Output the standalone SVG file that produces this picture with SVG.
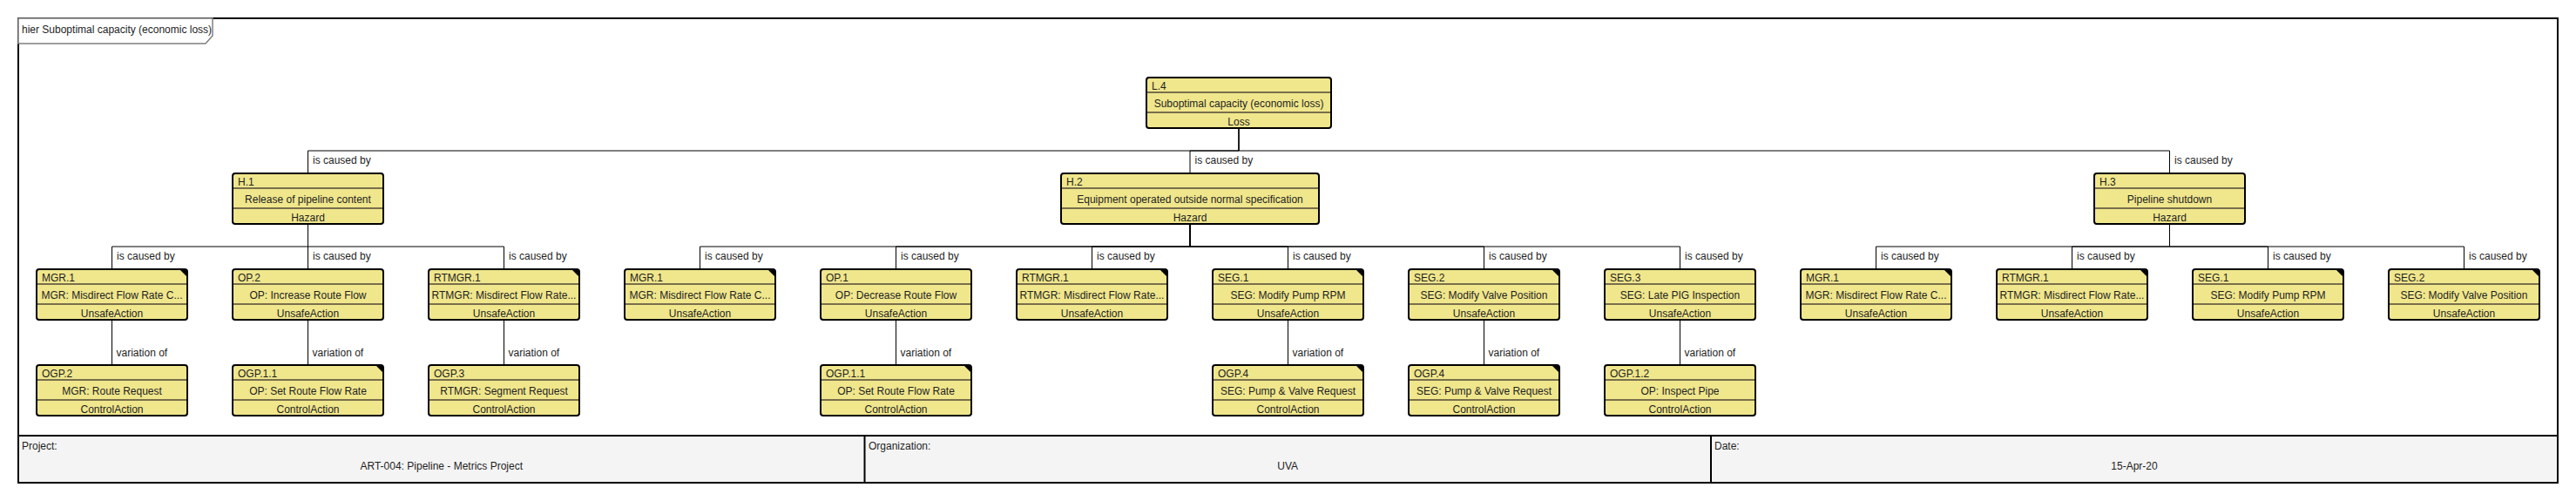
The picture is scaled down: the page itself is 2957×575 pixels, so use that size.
<svg xmlns="http://www.w3.org/2000/svg" width="2957" height="575" viewBox="0 0 2957 575">
<defs>
<style>
text{font-family:"Liberation Sans",Arial,sans-serif;font-size:12px;fill:#1e1e1e}
.box{fill:#f0e68c;stroke:#000;stroke-width:2}
.div{stroke:#786f4c;stroke-width:2}
.tri{fill:#000}
.c{text-anchor:middle}
.conn{fill:none;stroke:#000;stroke-width:1}
.frame{fill:none;stroke:#000;stroke-width:2}
.tab{fill:#fff;stroke:#808080;stroke-width:1.5}
.cell{fill:#f4f4f4;stroke:none}
.cellline{stroke:#000;stroke-width:2}
</style>
</defs>
<rect x="0" y="0" width="2957" height="575" fill="#fff"/>
<g id="frame">
<rect class="cell" x="21" y="500" width="2915" height="54"/>
<rect class="frame" x="21" y="21" width="2915" height="533"/>
<path class="tab" d="M21,21 H244 V41 L236,50 H21 Z"/>
<text x="25" y="38">hier Suboptimal capacity (economic loss)</text>
<line class="cellline" x1="21" y1="500" x2="2936" y2="500"/>
<line class="cellline" x1="992.5" y1="500" x2="992.5" y2="554"/>
<line class="cellline" x1="1964" y1="500" x2="1964" y2="554"/>
<text x="25" y="516">Project:</text>
<text class="c" x="506.75" y="539">ART-004: Pipeline - Metrics Project</text>
<text x="997" y="516">Organization:</text>
<text class="c" x="1478.25" y="539">UVA</text>
<text x="1968" y="516">Date:</text>
<text class="c" x="2450" y="539">15-Apr-20</text>
</g>
<g id="connectors">
<path class="conn" d="M1422,147 V173 H353.5 V199"/>
<path class="conn" d="M1422,147 V173 H1366 V199"/>
<path class="conn" d="M1422,147 V173 H2490.5 V199"/>
<text x="359" y="188">is caused by</text>
<text x="1371.5" y="188">is caused by</text>
<text x="2496" y="188">is caused by</text>
<path class="conn" d="M353.5,257 V283 H128.5 V309"/>
<path class="conn" d="M353.5,257 V283 H353.5 V309"/>
<path class="conn" d="M353.5,257 V283 H578.5 V309"/>
<text x="134" y="298">is caused by</text>
<text x="359" y="298">is caused by</text>
<text x="584" y="298">is caused by</text>
<path class="conn" d="M1366,257 V283 H803.5 V309"/>
<path class="conn" d="M1366,257 V283 H1028.5 V309"/>
<path class="conn" d="M1366,257 V283 H1253.5 V309"/>
<path class="conn" d="M1366,257 V283 H1478.5 V309"/>
<path class="conn" d="M1366,257 V283 H1703.5 V309"/>
<path class="conn" d="M1366,257 V283 H1928.5 V309"/>
<text x="809" y="298">is caused by</text>
<text x="1034" y="298">is caused by</text>
<text x="1259" y="298">is caused by</text>
<text x="1484" y="298">is caused by</text>
<text x="1709" y="298">is caused by</text>
<text x="1934" y="298">is caused by</text>
<path class="conn" d="M2490.5,257 V283 H2153.5 V309"/>
<path class="conn" d="M2490.5,257 V283 H2378.5 V309"/>
<path class="conn" d="M2490.5,257 V283 H2603.5 V309"/>
<path class="conn" d="M2490.5,257 V283 H2828.5 V309"/>
<text x="2159" y="298">is caused by</text>
<text x="2384" y="298">is caused by</text>
<text x="2609" y="298">is caused by</text>
<text x="2834" y="298">is caused by</text>
<path class="conn" d="M128.5,367 V419"/>
<path class="conn" d="M353.5,367 V419"/>
<path class="conn" d="M578.5,367 V419"/>
<path class="conn" d="M1028.5,367 V419"/>
<path class="conn" d="M1478.5,367 V419"/>
<path class="conn" d="M1703.5,367 V419"/>
<path class="conn" d="M1928.5,367 V419"/>
<text x="133.5" y="409">variation of</text>
<text x="358.5" y="409">variation of</text>
<text x="583.5" y="409">variation of</text>
<text x="1033.5" y="409">variation of</text>
<text x="1483.5" y="409">variation of</text>
<text x="1708.5" y="409">variation of</text>
<text x="1933.5" y="409">variation of</text>
</g>
<g id="L4"><rect class="box" x="1316" y="89" width="212" height="58" rx="3"/><line class="div" x1="1317" y1="106" x2="1527" y2="106"/><line class="div" x1="1317" y1="129" x2="1527" y2="129"/><text x="1322" y="103">L.4</text><text class="c" x="1422" y="123">Suboptimal capacity (economic loss)</text><text class="c" x="1422" y="144">Loss</text></g>
<g id="H1"><rect class="box" x="267" y="199" width="173" height="58" rx="3"/><line class="div" x1="268" y1="216" x2="439" y2="216"/><line class="div" x1="268" y1="239" x2="439" y2="239"/><text x="273" y="213">H.1</text><text class="c" x="353.5" y="233">Release of pipeline content</text><text class="c" x="353.5" y="254">Hazard</text></g>
<g id="H2"><rect class="box" x="1218" y="199" width="296" height="58" rx="3"/><line class="div" x1="1219" y1="216" x2="1513" y2="216"/><line class="div" x1="1219" y1="239" x2="1513" y2="239"/><text x="1224" y="213">H.2</text><text class="c" x="1366" y="233">Equipment operated outside normal specification</text><text class="c" x="1366" y="254">Hazard</text></g>
<g id="H3"><rect class="box" x="2404" y="199" width="173" height="58" rx="3"/><line class="div" x1="2405" y1="216" x2="2576" y2="216"/><line class="div" x1="2405" y1="239" x2="2576" y2="239"/><text x="2410" y="213">H.3</text><text class="c" x="2490.5" y="233">Pipeline shutdown</text><text class="c" x="2490.5" y="254">Hazard</text></g>
<g id="G1_MGR1"><rect class="box" x="42" y="309" width="173" height="58" rx="3"/><polygon class="tri" points="207,310 214,310 214,317"/><line class="div" x1="43" y1="326" x2="214" y2="326"/><line class="div" x1="43" y1="349" x2="214" y2="349"/><text x="48" y="323">MGR.1</text><text class="c" x="128.5" y="343">MGR: Misdirect Flow Rate C...</text><text class="c" x="128.5" y="364">UnsafeAction</text></g>
<g id="G1_OP2"><rect class="box" x="267" y="309" width="173" height="58" rx="3"/><line class="div" x1="268" y1="326" x2="439" y2="326"/><line class="div" x1="268" y1="349" x2="439" y2="349"/><text x="273" y="323">OP.2</text><text class="c" x="353.5" y="343">OP: Increase Route Flow</text><text class="c" x="353.5" y="364">UnsafeAction</text></g>
<g id="G1_RTMGR1"><rect class="box" x="492" y="309" width="173" height="58" rx="3"/><polygon class="tri" points="657,310 664,310 664,317"/><line class="div" x1="493" y1="326" x2="664" y2="326"/><line class="div" x1="493" y1="349" x2="664" y2="349"/><text x="498" y="323">RTMGR.1</text><text class="c" x="578.5" y="343">RTMGR: Misdirect Flow Rate...</text><text class="c" x="578.5" y="364">UnsafeAction</text></g>
<g id="G1_OGP2"><rect class="box" x="42" y="419" width="173" height="58" rx="3"/><line class="div" x1="43" y1="436" x2="214" y2="436"/><line class="div" x1="43" y1="459" x2="214" y2="459"/><text x="48" y="433">OGP.2</text><text class="c" x="128.5" y="453">MGR: Route Request</text><text class="c" x="128.5" y="474">ControlAction</text></g>
<g id="G1_OGP11"><rect class="box" x="267" y="419" width="173" height="58" rx="3"/><polygon class="tri" points="432,420 439,420 439,427"/><line class="div" x1="268" y1="436" x2="439" y2="436"/><line class="div" x1="268" y1="459" x2="439" y2="459"/><text x="273" y="433">OGP.1.1</text><text class="c" x="353.5" y="453">OP: Set Route Flow Rate</text><text class="c" x="353.5" y="474">ControlAction</text></g>
<g id="G1_OGP3"><rect class="box" x="492" y="419" width="173" height="58" rx="3"/><line class="div" x1="493" y1="436" x2="664" y2="436"/><line class="div" x1="493" y1="459" x2="664" y2="459"/><text x="498" y="433">OGP.3</text><text class="c" x="578.5" y="453">RTMGR: Segment Request</text><text class="c" x="578.5" y="474">ControlAction</text></g>
<g id="G2_MGR1"><rect class="box" x="717" y="309" width="173" height="58" rx="3"/><polygon class="tri" points="882,310 889,310 889,317"/><line class="div" x1="718" y1="326" x2="889" y2="326"/><line class="div" x1="718" y1="349" x2="889" y2="349"/><text x="723" y="323">MGR.1</text><text class="c" x="803.5" y="343">MGR: Misdirect Flow Rate C...</text><text class="c" x="803.5" y="364">UnsafeAction</text></g>
<g id="G2_OP1"><rect class="box" x="942" y="309" width="173" height="58" rx="3"/><line class="div" x1="943" y1="326" x2="1114" y2="326"/><line class="div" x1="943" y1="349" x2="1114" y2="349"/><text x="948" y="323">OP.1</text><text class="c" x="1028.5" y="343">OP: Decrease Route Flow</text><text class="c" x="1028.5" y="364">UnsafeAction</text></g>
<g id="G2_RTMGR1"><rect class="box" x="1167" y="309" width="173" height="58" rx="3"/><polygon class="tri" points="1332,310 1339,310 1339,317"/><line class="div" x1="1168" y1="326" x2="1339" y2="326"/><line class="div" x1="1168" y1="349" x2="1339" y2="349"/><text x="1173" y="323">RTMGR.1</text><text class="c" x="1253.5" y="343">RTMGR: Misdirect Flow Rate...</text><text class="c" x="1253.5" y="364">UnsafeAction</text></g>
<g id="G2_SEG1"><rect class="box" x="1392" y="309" width="173" height="58" rx="3"/><polygon class="tri" points="1557,310 1564,310 1564,317"/><line class="div" x1="1393" y1="326" x2="1564" y2="326"/><line class="div" x1="1393" y1="349" x2="1564" y2="349"/><text x="1398" y="323">SEG.1</text><text class="c" x="1478.5" y="343">SEG: Modify Pump RPM</text><text class="c" x="1478.5" y="364">UnsafeAction</text></g>
<g id="G2_SEG2"><rect class="box" x="1617" y="309" width="173" height="58" rx="3"/><polygon class="tri" points="1782,310 1789,310 1789,317"/><line class="div" x1="1618" y1="326" x2="1789" y2="326"/><line class="div" x1="1618" y1="349" x2="1789" y2="349"/><text x="1623" y="323">SEG.2</text><text class="c" x="1703.5" y="343">SEG: Modify Valve Position</text><text class="c" x="1703.5" y="364">UnsafeAction</text></g>
<g id="G2_SEG3"><rect class="box" x="1842" y="309" width="173" height="58" rx="3"/><line class="div" x1="1843" y1="326" x2="2014" y2="326"/><line class="div" x1="1843" y1="349" x2="2014" y2="349"/><text x="1848" y="323">SEG.3</text><text class="c" x="1928.5" y="343">SEG: Late PIG Inspection</text><text class="c" x="1928.5" y="364">UnsafeAction</text></g>
<g id="G2_OGP11"><rect class="box" x="942" y="419" width="173" height="58" rx="3"/><polygon class="tri" points="1107,420 1114,420 1114,427"/><line class="div" x1="943" y1="436" x2="1114" y2="436"/><line class="div" x1="943" y1="459" x2="1114" y2="459"/><text x="948" y="433">OGP.1.1</text><text class="c" x="1028.5" y="453">OP: Set Route Flow Rate</text><text class="c" x="1028.5" y="474">ControlAction</text></g>
<g id="G2_OGP4a"><rect class="box" x="1392" y="419" width="173" height="58" rx="3"/><polygon class="tri" points="1557,420 1564,420 1564,427"/><line class="div" x1="1393" y1="436" x2="1564" y2="436"/><line class="div" x1="1393" y1="459" x2="1564" y2="459"/><text x="1398" y="433">OGP.4</text><text class="c" x="1478.5" y="453">SEG: Pump &amp; Valve Request</text><text class="c" x="1478.5" y="474">ControlAction</text></g>
<g id="G2_OGP4b"><rect class="box" x="1617" y="419" width="173" height="58" rx="3"/><polygon class="tri" points="1782,420 1789,420 1789,427"/><line class="div" x1="1618" y1="436" x2="1789" y2="436"/><line class="div" x1="1618" y1="459" x2="1789" y2="459"/><text x="1623" y="433">OGP.4</text><text class="c" x="1703.5" y="453">SEG: Pump &amp; Valve Request</text><text class="c" x="1703.5" y="474">ControlAction</text></g>
<g id="G2_OGP12"><rect class="box" x="1842" y="419" width="173" height="58" rx="3"/><line class="div" x1="1843" y1="436" x2="2014" y2="436"/><line class="div" x1="1843" y1="459" x2="2014" y2="459"/><text x="1848" y="433">OGP.1.2</text><text class="c" x="1928.5" y="453">OP: Inspect Pipe</text><text class="c" x="1928.5" y="474">ControlAction</text></g>
<g id="G3_MGR1"><rect class="box" x="2067" y="309" width="173" height="58" rx="3"/><polygon class="tri" points="2232,310 2239,310 2239,317"/><line class="div" x1="2068" y1="326" x2="2239" y2="326"/><line class="div" x1="2068" y1="349" x2="2239" y2="349"/><text x="2073" y="323">MGR.1</text><text class="c" x="2153.5" y="343">MGR: Misdirect Flow Rate C...</text><text class="c" x="2153.5" y="364">UnsafeAction</text></g>
<g id="G3_RTMGR1"><rect class="box" x="2292" y="309" width="173" height="58" rx="3"/><polygon class="tri" points="2457,310 2464,310 2464,317"/><line class="div" x1="2293" y1="326" x2="2464" y2="326"/><line class="div" x1="2293" y1="349" x2="2464" y2="349"/><text x="2298" y="323">RTMGR.1</text><text class="c" x="2378.5" y="343">RTMGR: Misdirect Flow Rate...</text><text class="c" x="2378.5" y="364">UnsafeAction</text></g>
<g id="G3_SEG1"><rect class="box" x="2517" y="309" width="173" height="58" rx="3"/><polygon class="tri" points="2682,310 2689,310 2689,317"/><line class="div" x1="2518" y1="326" x2="2689" y2="326"/><line class="div" x1="2518" y1="349" x2="2689" y2="349"/><text x="2523" y="323">SEG.1</text><text class="c" x="2603.5" y="343">SEG: Modify Pump RPM</text><text class="c" x="2603.5" y="364">UnsafeAction</text></g>
<g id="G3_SEG2"><rect class="box" x="2742" y="309" width="173" height="58" rx="3"/><polygon class="tri" points="2907,310 2914,310 2914,317"/><line class="div" x1="2743" y1="326" x2="2914" y2="326"/><line class="div" x1="2743" y1="349" x2="2914" y2="349"/><text x="2748" y="323">SEG.2</text><text class="c" x="2828.5" y="343">SEG: Modify Valve Position</text><text class="c" x="2828.5" y="364">UnsafeAction</text></g>
</svg>
